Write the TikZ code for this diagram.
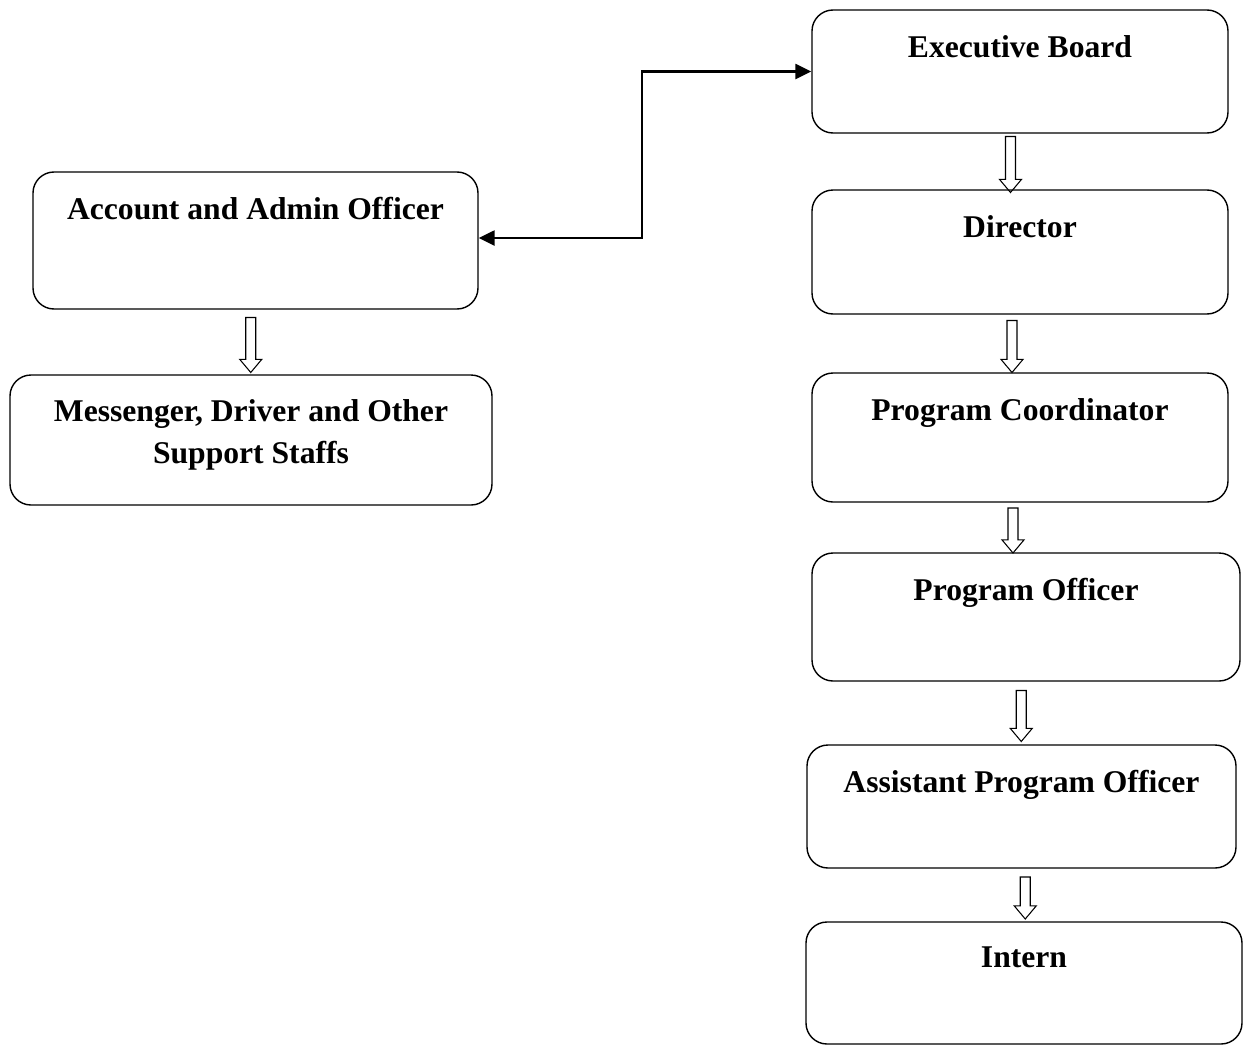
\documentclass[tikz,border=0pt]{standalone}
\usepackage{fontspec}
\setmainfont{Liberation Serif}
\usepackage{tikz}
\usetikzlibrary{calc,shapes.arrows,arrows.meta}

\begin{document}
\begin{tikzpicture}[
  post/.style={draw, line width=0.8pt, rounded corners=0.42cm},
  title/.style={anchor=north, inner sep=0pt, align=center,
    font=\bfseries\fontsize{18}{23.8}\selectfont},
  down/.style={draw, line width=0.6pt, single arrow, rotate=-90,
    inner xsep=0pt, inner ysep=2.55pt, single arrow head extend=3.4pt,
    single arrow tip angle=80, minimum height=#1},
  link/.style={line width=1.2pt, {Triangle[length=9pt,width=8.5pt]}-{Triangle[length=9pt,width=8.5pt]}}
]
\useasboundingbox (0, 0) rectangle (24.9, -20.92);

\node[post, minimum width=8.32cm, minimum height=2.46cm] (exec) at (20.40, -1.43) {};
\node[post, minimum width=8.32cm, minimum height=2.48cm] (dir) at (20.40, -5.04) {};
\node[post, minimum width=8.32cm, minimum height=2.58cm] (coord) at (20.40, -8.75) {};
\node[post, minimum width=8.56cm, minimum height=2.56cm] (po) at (20.52, -12.34) {};
\node[post, minimum width=8.58cm, minimum height=2.46cm] (apo) at (20.43, -16.13) {};
\node[post, minimum width=8.72cm, minimum height=2.44cm] (intern) at (20.48, -19.66) {};
\node[post, minimum width=8.90cm, minimum height=2.74cm] (acc) at (5.11, -4.81) {};
\node[post, minimum width=9.64cm, minimum height=2.60cm] (msg) at (5.02, -8.80) {};

\node[title] (execT) at ([yshift=-0.52cm]exec.north) {Executive Board};
\node[title] (dirT) at ([yshift=-0.52cm]dir.north) {Director};
\node[title] (coordT) at ([yshift=-0.52cm]coord.north) {Program Coordinator};
\node[title] (poT) at ([yshift=-0.52cm]po.north) {Program Officer};
\node[title] (apoT) at ([yshift=-0.52cm]apo.north) {Assistant Program Officer};
\node[title] (internT) at ([yshift=-0.50cm]intern.north) {Intern};
\node[title] (accT) at ([yshift=-0.52cm]acc.north) {Account and Admin Officer};
\node[title] (msgT) at ([yshift=-0.50cm]msg.north) {Messenger, Driver and Other\\Support Staffs};

\node[down=1.12cm] (a1) at ($(exec.south)!0.5!(dir.north) + (-0.19, 0)$) {};
\node[down=1.04cm] (a2) at ($(dir.south)!0.5!(coord.north) + (-0.16, 0)$) {};
\node[down=0.90cm] (a3) at ($(coord.south)!0.5!(po.north) + (-0.20, 0)$) {};
\node[down=1.02cm] (a4) at ($(po.south)!0.5!(apo.north) + (-0.05, 0)$) {};
\node[down=0.84cm] (a5) at ($(apo.south)!0.5!(intern.north) + (0.05, 0)$) {};
\node[down=1.10cm] (a6) at ($(acc.south)!0.5!(msg.north) + (-0.05, 0)$) {};

\draw[link] ([yshift=0.05cm]acc.east) -| ($(acc.east)!0.49!(exec.west)$) |- (exec.west);
\end{tikzpicture}
\end{document}
